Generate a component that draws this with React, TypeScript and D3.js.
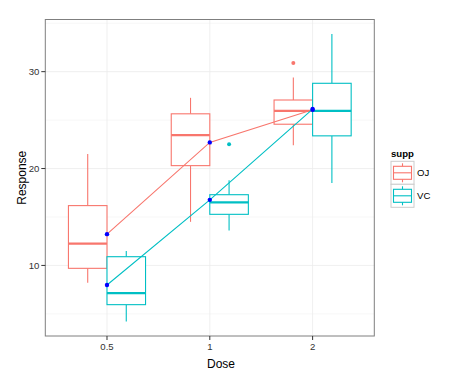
import React from "react";
import * as d3 from "d3";

const doses = ["0.5", "1", "2"];
const supps = ["OJ", "VC"];
const colors = ["#F8766D", "#00BFC4"];
// box stats per supp per dose: [lowerWhisker, q1, median, q3, upperWhisker]
const ojStats = [
  [8.2, 9.7, 12.25, 16.175, 21.5],
  [14.5, 20.3, 23.45, 25.65, 27.3],
  [22.4, 24.575, 25.95, 27.075, 29.4],
];
const vcStats = [
  [4.2, 5.95, 7.15, 10.9, 11.5],
  [13.6, 15.275, 16.5, 17.3, 18.8],
  [18.5, 23.375, 25.95, 28.8, 33.9],
];
const ojOutliers = [[], [], [30.9]];
const vcOutliers = [[], [22.5], []];
const ojMeans = [13.23, 22.7, 26.06];
const vcMeans = [7.98, 16.77, 26.14];
const yMajor = [10, 20, 30];
const yMinor = [5, 15, 25, 35];

const W = 466, H = 379;
const PL = 45.3, PR = 374.3, PT = 19.5, PB = 336;

export default function App() {
  const x = d3.scaleLinear().domain([0.4, 3.6]).range([PL, PR]);
  const y = d3.scaleLinear().domain([2.715, 35.385]).range([PB, PT]);
  const statsAll = [ojStats, vcStats];
  const outAll = [ojOutliers, vcOutliers];
  const meansAll = [ojMeans, vcMeans];
  const boxW = 0.375;
  const line = d3.line<number>().x((_, i) => x(i + 1)).y((d) => y(d));
  const font = "'Liberation Sans', Arial, sans-serif";

  return (
    <svg width={W} height={H} style={{ position: "absolute", left: 0, top: 0 }} fontFamily={font}>
      <rect x={0} y={0} width={W} height={H} fill="white" />
      <rect x={PL} y={PT} width={PR - PL} height={PB - PT} fill="white" />
      {yMinor.map((v) => (
        <line key={"mn" + v} x1={PL} x2={PR} y1={y(v)} y2={y(v)} stroke="#F7F7F7" strokeWidth={1} />
      ))}
      {yMajor.map((v) => (
        <line key={"mj" + v} x1={PL} x2={PR} y1={y(v)} y2={y(v)} stroke="#EBEBEB" strokeWidth={0.8} />
      ))}
      {doses.map((d, i) => (
        <line key={"vx" + d} x1={x(i + 1)} x2={x(i + 1)} y1={PT} y2={PB} stroke="#EBEBEB" strokeWidth={0.8} />
      ))}
      {doses.map((d, i) =>
        supps.map((s, j) => {
          const st = statsAll[j][i];
          const cx = x(i + 1) + (j === 0 ? -1 : 1) * (boxW / 2) * (x(1) - x(0));
          const half = (boxW / 2) * (x(1) - x(0));
          const c = colors[j];
          return (
            <g key={d + s}>
              <line x1={cx} x2={cx} y1={y(st[4])} y2={y(st[3])} stroke={c} strokeWidth={1.1} />
              <line x1={cx} x2={cx} y1={y(st[1])} y2={y(st[0])} stroke={c} strokeWidth={1.1} />
              <rect x={cx - half} y={y(st[3])} width={2 * half} height={y(st[1]) - y(st[3])} fill="white" stroke={c} strokeWidth={1.1} />
              <line x1={cx - half} x2={cx + half} y1={y(st[2])} y2={y(st[2])} stroke={c} strokeWidth={2.2} />
              {outAll[j][i].map((o, k) => (
                <circle key={k} cx={cx} cy={y(o)} r={2} fill={c} />
              ))}
            </g>
          );
        })
      )}
      {meansAll.map((m, j) => (
        <path key={"l" + j} d={line(m) || ""} fill="none" stroke={colors[j]} strokeWidth={1.1} />
      ))}
      {meansAll.map((m, j) =>
        m.map((v, i) => <circle key={"p" + j + i} cx={x(i + 1)} cy={y(v)} r={2.2} fill="#0000FF" />)
      )}
      <rect x={PL} y={PT} width={PR - PL} height={PB - PT} fill="none" stroke="#7F7F7F" strokeWidth={1} />
      {yMajor.map((v) => (
        <g key={"yt" + v}>
          <line x1={PL - 4} x2={PL} y1={y(v)} y2={y(v)} stroke="#333" strokeWidth={1} />
          <text x={PL - 6} y={y(v)} dy="0.35em" textAnchor="end" fontSize={9.6} fill="#333">{v}</text>
        </g>
      ))}
      {doses.map((d, i) => (
        <g key={"xt" + d}>
          <line x1={x(i + 1)} x2={x(i + 1)} y1={PB} y2={PB + 4} stroke="#333" strokeWidth={1} />
          <text x={x(i + 1)} y={PB + 14} textAnchor="middle" fontSize={9.6} fill="#333">{d}</text>
        </g>
      ))}
      <text x={221} y={368} textAnchor="middle" fontSize={12} fill="black">Dose</text>
      <text transform={`translate(26,${(PT + PB) / 2}) rotate(-90)`} textAnchor="middle" fontSize={12} fill="black">Response</text>
      <text x={391} y={156.5} fontSize={9.6} fontWeight="bold" fill="black">supp</text>
      {supps.map((s, j) => {
        const ky = 161.3 + j * 23;
        const kx = 391;
        const c = colors[j];
        return (
          <g key={"lg" + s}>
            <rect x={kx} y={ky} width={23} height={23} fill="white" stroke="#CCCCCC" strokeWidth={1} />
            <line x1={kx + 11.5} x2={kx + 11.5} y1={ky + 2} y2={ky + 21} stroke={c} strokeWidth={1.1} />
            <rect x={kx + 2.5} y={ky + 5} width={18} height={13} fill="white" stroke={c} strokeWidth={1.1} />
            <line x1={kx + 2.5} x2={kx + 20.5} y1={ky + 11.5} y2={ky + 11.5} stroke={c} strokeWidth={1.1} />
            <text x={kx + 26} y={ky + 11.5} dy="0.35em" fontSize={9.6} fill="black">{s}</text>
          </g>
        );
      })}
    </svg>
  );
}
